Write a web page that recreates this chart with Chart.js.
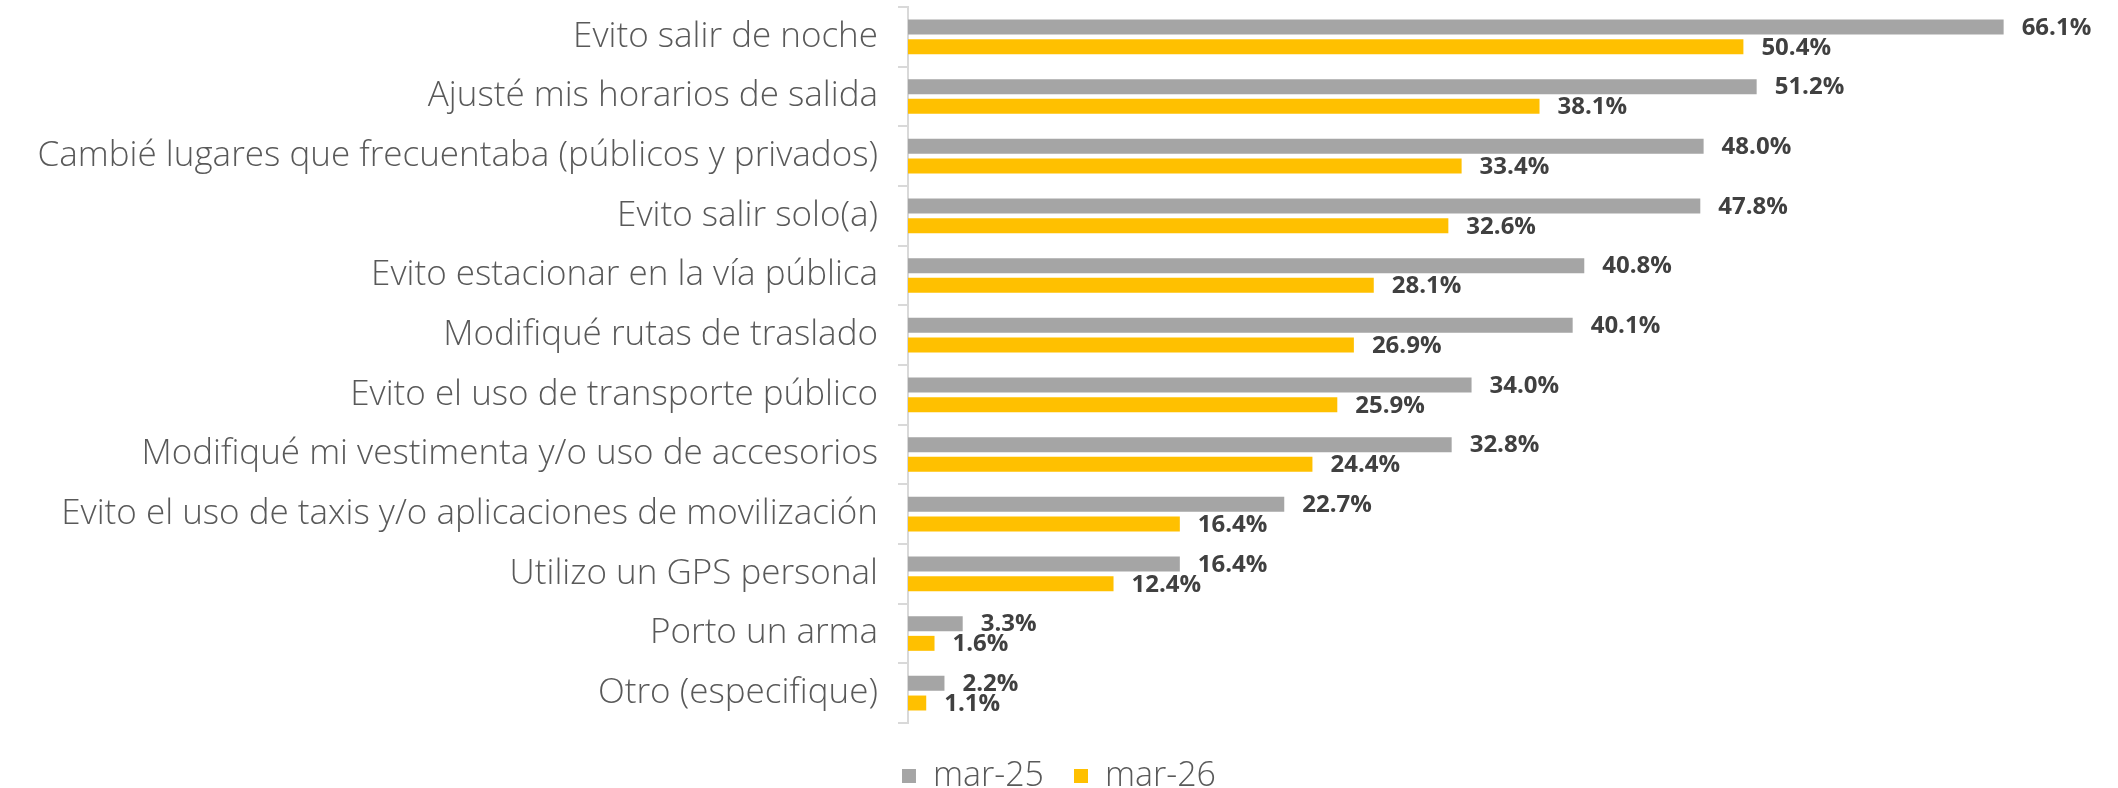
<!DOCTYPE html>
<html lang="es">
<head>
<meta charset="utf-8">
<title>Medidas de protección</title>
<script src="https://cdn.jsdelivr.net/npm/chart.js@4.4.1/dist/chart.umd.min.js"></script>
<style>
  html, body { margin: 0; padding: 0; background: #fff; }
  #contenedor { width: 2118px; height: 788px; position: relative; }
</style>
</head>
<body>
<div id="contenedor"><canvas id="grafico"></canvas></div>
<script>
// datos
const categorias = [
  'Evito salir de noche',
  'Ajusté mis horarios de salida',
  'Cambié lugares que frecuentaba (públicos y privados)',
  'Evito salir solo(a)',
  'Evito estacionar en la vía pública',
  'Modifiqué rutas de traslado',
  'Evito el uso de transporte público',
  'Modifiqué mi vestimenta y/o uso de accesorios',
  'Evito el uso de taxis y/o aplicaciones de movilización',
  'Utilizo un GPS personal',
  'Porto un arma',
  'Otro (especifique)'
];
const serieMar25 = [66.1, 51.2, 48.0, 47.8, 40.8, 40.1, 34.0, 32.8, 22.7, 16.4, 3.3, 2.2];
const serieMar26 = [50.4, 38.1, 33.4, 32.6, 28.1, 26.9, 25.9, 24.4, 16.4, 12.4, 1.6, 1.1];
const nombresSeries = ['mar-25', 'mar-26'];
const coloresSeries = ['#A5A5A5', '#FFC000'];

const fuente = '"Open Sans", "DejaVu Sans", sans-serif';

// etiquetas de valor al final de cada barra
const etiquetasValor = {
  id: 'etiquetasValor',
  afterDatasetsDraw(chart) {
    const ctx = chart.ctx;
    ctx.save();
    ctx.font = 'bold 24px ' + fuente;
    ctx.fillStyle = '#404040';
    ctx.textAlign = 'left';
    ctx.textBaseline = 'middle';
    chart.data.datasets.forEach((ds, i) => {
      chart.getDatasetMeta(i).data.forEach((barra, j) => {
        ctx.fillText(ds.data[j].toFixed(1) + '%', barra.x + 18, barra.y + 1);
      });
    });
    ctx.restore();
  }
};

const ctx = document.getElementById('grafico').getContext('2d');
new Chart(ctx, {
  type: 'bar',
  data: {
    labels: categorias,
    datasets: [
      { label: nombresSeries[0], data: serieMar25, backgroundColor: coloresSeries[0], borderWidth: 0 },
      { label: nombresSeries[1], data: serieMar26, backgroundColor: coloresSeries[1], borderWidth: 0 }
    ]
  },
  options: {
    indexAxis: 'y',
    responsive: true,
    maintainAspectRatio: false,
    animation: false,
    categoryPercentage: 0.66,
    barPercentage: 0.76,
    layout: { padding: { top: 7, right: 0, bottom: -15, left: 0 } },
    scales: {
      x: { display: false, min: 0, max: 73 },
      y: {
        afterFit(escala) {
          // ancho fijo del eje y sin margen extra arriba/abajo
          escala.width = 908;
          escala.paddingTop = 0;
          escala.paddingBottom = 0;
        },
        grid: { drawOnChartArea: false, drawTicks: true, tickLength: 10, color: '#D9D9D9', lineWidth: 2, offset: true },
        border: { display: true, color: '#D9D9D9', width: 2 },
        ticks: { color: '#595959', padding: 20, font: { family: fuente, size: 35, weight: '300' } }
      }
    },
    plugins: {
      legend: {
        position: 'bottom',
        // título vacío solo para bajar un poco la leyenda
        title: { display: true, text: '', padding: 0, font: { size: 5, lineHeight: 1.2 } },
        labels: {
          boxWidth: 14, boxHeight: 14, padding: 30,
          color: '#595959',
          font: { family: fuente, size: 34, weight: '300' }
        }
      },
      tooltip: { enabled: false }
    }
  },
  plugins: [etiquetasValor]
});
</script>
</body>
</html>
